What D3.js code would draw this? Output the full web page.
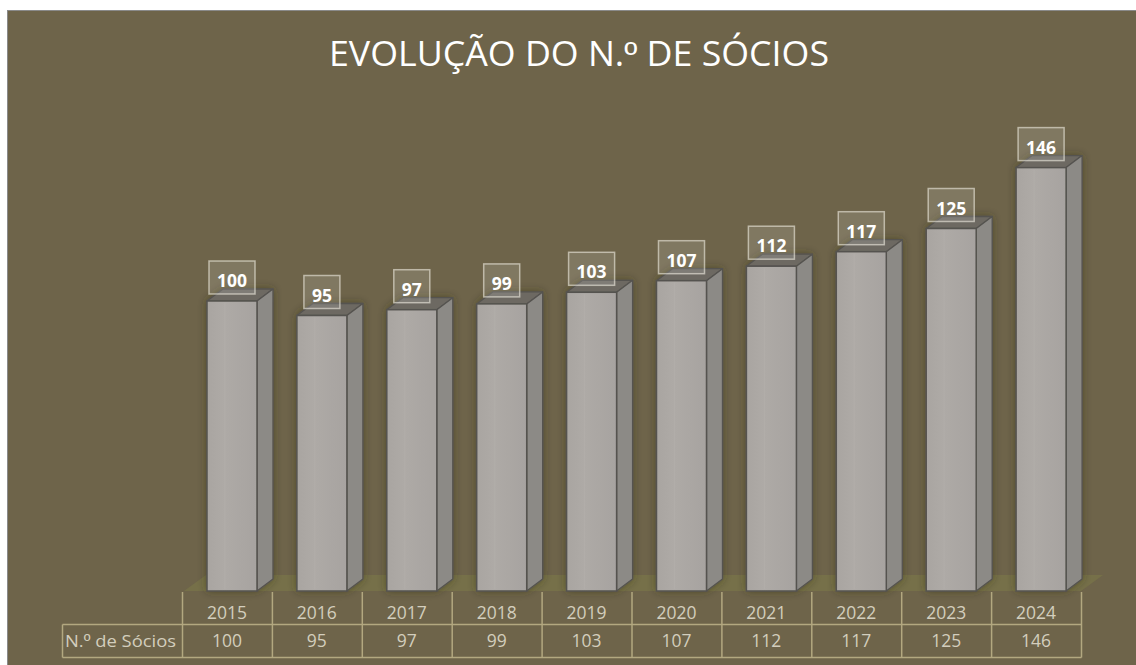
<!DOCTYPE html>
<html><head><meta charset="utf-8">
<script src="https://cdn.jsdelivr.net/npm/d3@7"></script>
<style>html,body{margin:0;padding:0;background:#fff;}svg{display:block;}</style>
</head><body>
<svg id="c" width="1136" height="665"></svg>
<script>
const years = ["2015","2016","2017","2018","2019","2020","2021","2022","2023","2024"];
const socios = [100,95,97,99,103,107,112,117,125,146];
const seriesName = ["N.", "º", " de Sócios"];
const title = ["EVOLUÇÃO DO N.", "º", " DE SÓCIOS"];

const svg = d3.select("#c");
const W = 1136, H = 665;
const defs = svg.append("defs");
const f = defs.append("filter").attr("id","sh").attr("x","-30%").attr("y","-30%").attr("width","160%").attr("height","160%");
f.append("feDropShadow").attr("dx",0).attr("dy",0).attr("stdDeviation",4).attr("flood-color","#2e2a1e").attr("flood-opacity",0.45);
const g1 = defs.append("linearGradient").attr("id","front").attr("x1","0").attr("x2","1");
g1.append("stop").attr("offset","0").attr("stop-color","#a9a5a1");
g1.append("stop").attr("offset","0.35").attr("stop-color","#aeaaa6");
g1.append("stop").attr("offset","1").attr("stop-color","#a7a3a0");

svg.append("rect").attr("x",7.5).attr("y",10.5).attr("width",W-7).attr("height",H-10)
  .attr("fill","#6e644a").attr("stroke","#8a8a8a").attr("stroke-width",1);

const tt = svg.append("text").attr("x",579).attr("y",66).attr("text-anchor","middle")
  .attr("font-family","'Open Sans', sans-serif").attr("font-size",34).attr("fill","#ffffff")
  .attr("textLength",500).attr("lengthAdjust","spacingAndGlyphs");
title.forEach((s,i)=>{ const sp = tt.append("tspan").text(s); if(i===1) sp.attr("font-family","'Liberation Sans', sans-serif"); });

const x = d3.scaleBand().domain(years).range([182,1081]).paddingInner(0).paddingOuter(0);
const y = d3.scaleLinear().domain([0,160]).range([591,127]);
const dx = 16, dy = 12;
const base = y(0);

// floor
svg.append("path")
  .attr("d", `M${x.range()[0]+2},${base} L${x.range()[1]},${base} L${x.range()[1]+dx+6},${base-dy-4} L${x.range()[0]+dx+8},${base-dy-4} Z`)
  .attr("fill","#767049");

const bw = 50, off = 25;
const bars = svg.append("g").selectAll("g").data(years.map((yr,i)=>({yr,v:socios[i]}))).join("g");
bars.each(function(d){
  const g = d3.select(this);
  const x0 = x(d.yr)+off, x1 = x0+bw, yt = y(d.v);
  const gs = g.append("g").attr("filter","url(#sh)");
  gs.append("path").attr("d",`M${x0},${yt} L${x0+dx},${yt-dy} L${x1+dx},${yt-dy} L${x1},${yt} Z`)
    .attr("fill","#6d6962").attr("stroke","#55534f").attr("stroke-width",1.3).attr("stroke-linejoin","round");
  gs.append("path").attr("d",`M${x1},${yt} L${x1+dx},${yt-dy} L${x1+dx},${base-dy} L${x1},${base} Z`)
    .attr("fill","#8c8a86").attr("stroke","#55534f").attr("stroke-width",1.3).attr("stroke-linejoin","round");
  gs.append("rect").attr("x",x0).attr("y",yt).attr("width",bw).attr("height",base-yt)
    .attr("fill","url(#front)").attr("stroke","#55534f").attr("stroke-width",1.5);
  g.append("line").attr("x1",x0+bw*0.36).attr("x2",x0+bw*0.36).attr("y1",yt+2).attr("y2",base-2)
    .attr("stroke","#b4b0ac").attr("stroke-width",1).attr("opacity",0.6);
  const t = g.append("text").attr("x",x0+bw/2).attr("y",yt-14).attr("text-anchor","middle")
    .attr("font-family","'Open Sans', sans-serif").attr("font-weight",700).attr("font-size",17.5)
    .attr("fill","#ffffff").text(d.v);
  const tw = t.node().getComputedTextLength();
  const bx = x0+bw/2 - tw/2 - 8;
  g.insert("rect","text").attr("x",bx).attr("y",yt-40).attr("width",tw+16).attr("height",33)
    .attr("fill","rgba(255,255,255,0.13)").attr("stroke","rgba(240,236,225,0.6)").attr("stroke-width",1.5);
});

// table
const tbl = svg.append("g");
const lc = "#b3a880";
const yTop = 592, yMid = 624.5, yBot = 657.5, xLab = 62.5;
x.domain().forEach(yr => {
  tbl.append("line").attr("x1",x(yr)+0.5).attr("x2",x(yr)+0.5).attr("y1",yTop).attr("y2",yBot).attr("stroke",lc).attr("stroke-width",1.5);
});
tbl.append("line").attr("x1",x.range()[1]+0.5).attr("x2",x.range()[1]+0.5).attr("y1",yTop).attr("y2",yBot).attr("stroke",lc).attr("stroke-width",1.5);
tbl.append("line").attr("x1",xLab).attr("x2",xLab).attr("y1",yMid).attr("y2",yBot).attr("stroke",lc).attr("stroke-width",1.5);
[yMid,yBot].forEach(yy => tbl.append("line").attr("x1",xLab).attr("x2",x.range()[1]+0.5).attr("y1",yy).attr("y2",yy).attr("stroke",lc).attr("stroke-width",1.5));
const tf = "'Open Sans', sans-serif", tcol = "#d3cebd";
years.forEach((yr,i) => {
  tbl.append("text").attr("x",x(yr)+x.bandwidth()/2).attr("y",619).attr("text-anchor","middle")
    .attr("font-family",tf).attr("font-size",17.5).attr("fill",tcol).text(yr);
  tbl.append("text").attr("x",x(yr)+x.bandwidth()/2).attr("y",647).attr("text-anchor","middle")
    .attr("font-family",tf).attr("font-size",17.5).attr("fill",tcol).text(socios[i]);
});
const lt = tbl.append("text").attr("x",65).attr("y",647).attr("font-family",tf).attr("font-size",17).attr("fill",tcol)
  .attr("textLength",111).attr("lengthAdjust","spacingAndGlyphs");
seriesName.forEach((s,i)=>{ const sp = lt.append("tspan").text(s); if(i===1) sp.attr("font-family","'Liberation Sans', sans-serif"); });
</script>
</body></html>
